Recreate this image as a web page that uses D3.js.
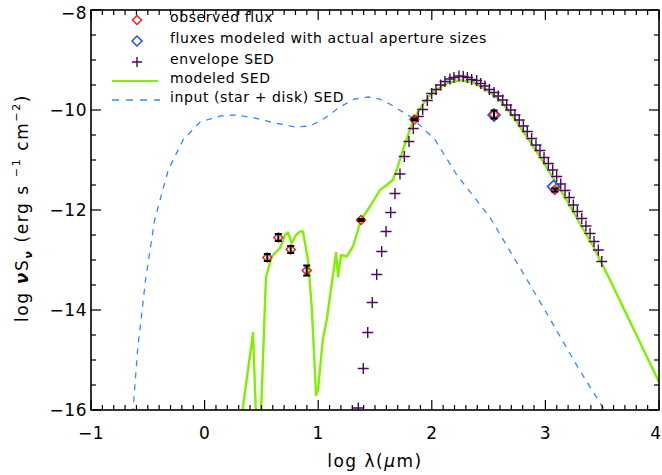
<!DOCTYPE html>
<html>
<head>
<meta charset="utf-8">
<script src="https://d3js.org/d3.v7.min.js"></script>
<style>
  body { margin: 0; background: #fff; }
  text { font-family: "DejaVu Sans", sans-serif; fill: #000; }
  .tick-label { font-size: 17px; letter-spacing: 0.5px; }
  .legend text { font-size: 14px; letter-spacing: 0.6px; }
</style>
</head>
<body>
<svg width="662" height="475"></svg>
<script>
// input (star + disk) SED, dashed blue
var inputX = [-0.66, -0.63, -0.59, -0.52, -0.44, -0.32, -0.19, -0.04, 0.14, 0.27, 0.44, 0.62, 0.80, 0.93, 1.06, 1.19, 1.32, 1.44, 1.54, 1.63, 1.83, 2.03, 2.22, 2.51, 2.84, 3.01, 3.30, 3.52, 3.56];
var inputY = [-16.8, -16.0, -14.8, -13.4, -12.2, -11.2, -10.6, -10.24, -10.12, -10.1, -10.16, -10.26, -10.34, -10.32, -10.16, -9.94, -9.78, -9.74, -9.78, -9.88, -10.16, -10.6, -11.3, -12.14, -13.4, -14.06, -15.2, -16.0, -16.1];

// modeled SED, green
var modelX = [0.31, 0.426, 0.452, 0.474, 0.496, 0.540, 0.591, 0.664, 0.708, 0.734, 0.767, 0.805, 0.840, 0.866, 0.910, 0.943, 0.981, 0.998, 1.040, 1.075, 1.157, 1.175, 1.201, 1.251, 1.306, 1.377, 1.456, 1.544, 1.603, 1.656, 1.691, 1.746, 1.837, 1.925, 2.013, 2.131, 2.248, 2.365, 2.483, 2.600, 2.717, 2.835, 2.952, 3.070, 3.187, 3.304, 3.422, 3.569, 4.0];
var modelY = [-16.4, -14.46, -16.1, -16.6, -16.1, -13.34, -12.93, -12.76, -12.5, -12.45, -12.66, -12.5, -12.43, -12.43, -13.0, -13.93, -15.7, -15.6, -14.6, -14.2, -12.86, -13.33, -12.9, -12.93, -12.73, -12.2, -11.93, -11.6, -11.5, -11.4, -11.2, -10.8, -10.2, -9.87, -9.63, -9.47, -9.4, -9.45, -9.6, -9.8, -10.13, -10.53, -10.93, -11.37, -11.8, -12.27, -12.73, -13.4, -15.44];

// envelope SED, purple plus signs
var envX = [1.353, 1.397, 1.436, 1.476, 1.515, 1.559, 1.597, 1.638, 1.676, 1.720, 1.758, 1.799, 1.837, 1.881, 1.920, 1.960, 1.999, 2.037, 2.078, 2.116, 2.160, 2.195, 2.239, 2.277, 2.313, 2.351, 2.395, 2.430, 2.468, 2.506, 2.548, 2.585, 2.624, 2.659, 2.695, 2.732, 2.770, 2.806, 2.841, 2.879, 2.917, 2.952, 2.988, 3.026, 3.064, 3.099, 3.135, 3.173, 3.210, 3.246, 3.281, 3.320, 3.357, 3.393, 3.428, 3.466, 3.496];
var envY = [-15.96, -15.17, -14.45, -13.85, -13.29, -12.83, -12.43, -12.05, -11.67, -11.28, -10.93, -10.63, -10.37, -10.13, -9.99, -9.81, -9.67, -9.59, -9.5, -9.43, -9.38, -9.35, -9.32, -9.33, -9.35, -9.39, -9.41, -9.47, -9.52, -9.59, -9.65, -9.72, -9.8, -9.9, -10.0, -10.1, -10.2, -10.32, -10.43, -10.57, -10.7, -10.81, -10.95, -11.07, -11.2, -11.33, -11.48, -11.61, -11.75, -11.9, -12.03, -12.17, -12.32, -12.47, -12.63, -12.8, -13.03];

// observed flux, red diamonds with error bars
var obsX = [0.552, 0.649, 0.758, 0.899, 1.377, 1.846, 2.548, 3.082];
var obsY = [-12.95, -12.55, -12.79, -13.21, -12.2, -10.19, -10.09, -11.6];
var obsErr = [0.07, 0.07, 0.07, 0.1, 0.02, 0.02, 0.08, 0.03];

// fluxes modeled with actual aperture sizes, blue diamonds
var apX = [2.548, 3.072];
var apY = [-10.1, -11.53];

var xTicks = [-1, 0, 1, 2, 3, 4];
var yTicks = [-16, -14, -12, -10, -8];

var legendLabels = ["observed flux", "fluxes modeled with actual aperture sizes", "envelope SED", "modeled SED", "input (star + disk) SED"];

var red = "#ff1a1a", blue = "#1f4fff", purple = "#4a0a5e", green = "#7ef000", dashBlue = "#3a86ff";

var svg = d3.select("svg");
var mLeft = 91, mRight = 659, mTop = 10, mBottom = 410;

var x = d3.scaleLinear().domain([-1, 4]).range([mLeft, mRight]);
var y = d3.scaleLinear().domain([-16, -8]).range([mBottom, mTop]);

svg.append("clipPath").attr("id", "clip")
  .append("rect").attr("x", mLeft).attr("y", mTop).attr("width", mRight - mLeft).attr("height", mBottom - mTop);

var plot = svg.append("g").attr("clip-path", "url(#clip)");

var line = d3.line().x(function (d) { return x(d[0]); }).y(function (d) { return y(d[1]); });

plot.append("path")
  .datum(d3.zip(inputX, inputY))
  .attr("d", line)
  .attr("fill", "none").attr("stroke", dashBlue).attr("stroke-width", 1.3)
  .attr("stroke-dasharray", "6,6");

plot.append("path")
  .datum(d3.zip(modelX, modelY))
  .attr("d", line)
  .attr("fill", "none").attr("stroke", green).attr("stroke-width", 2.4)
  .attr("stroke-linejoin", "round");

function plus(g, cx, cy, s) {
  g.append("path")
    .attr("d", "M" + (cx - s) + "," + cy + "H" + (cx + s) + "M" + cx + "," + (cy - s) + "V" + (cy + s))
    .attr("stroke", purple).attr("stroke-width", 1.4).attr("fill", "none");
}

d3.zip(envX, envY).forEach(function (d) { plus(plot, x(d[0]), y(d[1]), 5.5); });

function diamond(g, cx, cy, s, col, w) {
  g.append("path")
    .attr("d", "M" + cx + "," + (cy - s) + "L" + (cx + s) + "," + cy + "L" + cx + "," + (cy + s) + "L" + (cx - s) + "," + cy + "Z")
    .attr("fill", "none").attr("stroke", col).attr("stroke-width", w);
}

d3.zip(apX, apY).forEach(function (d) { diamond(plot, x(d[0]), y(d[1]), 6, blue, 1.6); });

obsX.forEach(function (v, i) {
  var cx = x(v), y0 = y(obsY[i] - obsErr[i]), y1 = y(obsY[i] + obsErr[i]);
  diamond(plot, cx, y(obsY[i]), 4.5, red, 1.5);
  plot.append("path")
    .attr("d", "M" + cx + "," + y0 + "V" + y1 + "M" + (cx - 3.5) + "," + y0 + "H" + (cx + 3.5) + "M" + (cx - 3.5) + "," + y1 + "H" + (cx + 3.5))
    .attr("stroke", "#000").attr("stroke-width", 2).attr("fill", "none");
});

// frame and ticks
var frame = svg.append("g");
frame.append("rect").attr("x", mLeft).attr("y", mTop).attr("width", mRight - mLeft).attr("height", mBottom - mTop)
  .attr("fill", "none").attr("stroke", "#000").attr("stroke-width", 1.6);

var xMinor = d3.range(-10, 41).map(function (k) { return k / 10; });
var yMinor = d3.range(-32, -15).map(function (k) { return k / 2; });

xMinor.forEach(function (v) {
  var len = Math.abs(v - Math.round(v)) < 1e-6 ? 10 : 5;
  frame.append("line").attr("x1", x(v)).attr("x2", x(v)).attr("y1", mBottom).attr("y2", mBottom - len).attr("stroke", "#000").attr("stroke-width", 1.2);
  frame.append("line").attr("x1", x(v)).attr("x2", x(v)).attr("y1", mTop).attr("y2", mTop + len).attr("stroke", "#000").attr("stroke-width", 1.2);
});
yMinor.forEach(function (v) {
  var len = Math.abs(v / 2 - Math.round(v / 2)) < 1e-6 ? 10 : 5;
  frame.append("line").attr("y1", y(v)).attr("y2", y(v)).attr("x1", mLeft).attr("x2", mLeft + len).attr("stroke", "#000").attr("stroke-width", 1.2);
  frame.append("line").attr("y1", y(v)).attr("y2", y(v)).attr("x1", mRight).attr("x2", mRight - len).attr("stroke", "#000").attr("stroke-width", 1.2);
});

function fmt(v) { return v < 0 ? "\u2212" + Math.abs(v) : String(v); }

xTicks.forEach(function (v) {
  svg.append("text").attr("class", "tick-label")
    .attr("x", x(v) - (v === 4 ? 3 : 0)).attr("y", mBottom + 29).attr("text-anchor", "middle").text(fmt(v));
});
yTicks.forEach(function (v) {
  svg.append("text").attr("class", "tick-label")
    .attr("x", mLeft - 4).attr("y", y(v) + 6 + (v === -8 ? 3 : 0)).attr("text-anchor", "end").text(fmt(v));
});

// axis titles
var xt = svg.append("text").attr("x", 375).attr("y", 467).attr("text-anchor", "middle")
  .style("font-size", "17px").style("letter-spacing", "1.5px");
xt.append("tspan").text("log \u03bb(");
xt.append("tspan").style("font-style", "italic").text("\u03bc");
xt.append("tspan").text("m)");

var yt = svg.append("text").attr("transform", "translate(28,208) rotate(-90)").attr("text-anchor", "middle")
  .style("font-size", "17px").style("letter-spacing", "1.6px");
yt.append("tspan").text("log ");
yt.append("tspan").style("font-weight", "bold").style("font-style", "italic").text("\u03bd");
yt.append("tspan").text("S");
yt.append("tspan").attr("dy", 4).style("font-size", "11px").style("font-weight", "bold").style("font-style", "italic").text("\u03bd");
yt.append("tspan").attr("dy", -4).text(" (erg s ");
yt.append("tspan").attr("dy", -8).style("font-size", "11px").text("\u22121");
yt.append("tspan").attr("dy", 8).text(" cm");
yt.append("tspan").attr("dy", -8).style("font-size", "11px").text("\u22122");
yt.append("tspan").attr("dy", 8).text(")");

// legend
var leg = svg.append("g").attr("class", "legend");
var legY = [20, 41, 62, 81, 100];
diamond(leg, 137, legY[0], 4.5, red, 1.5);
diamond(leg, 137, legY[1], 5, blue, 1.5);
plus(leg, 137, legY[2], 5);
leg.append("line").attr("x1", 112).attr("x2", 158).attr("y1", legY[3]).attr("y2", legY[3]).attr("stroke", green).attr("stroke-width", 1.8);
leg.append("line").attr("x1", 112).attr("x2", 160).attr("y1", legY[4]).attr("y2", legY[4]).attr("stroke", dashBlue).attr("stroke-width", 1.3).attr("stroke-dasharray", "7,7");
legendLabels.forEach(function (t, i) {
  leg.append("text").attr("x", 170).attr("y", legY[i] + 2).text(t);
});
</script>
</body>
</html>
